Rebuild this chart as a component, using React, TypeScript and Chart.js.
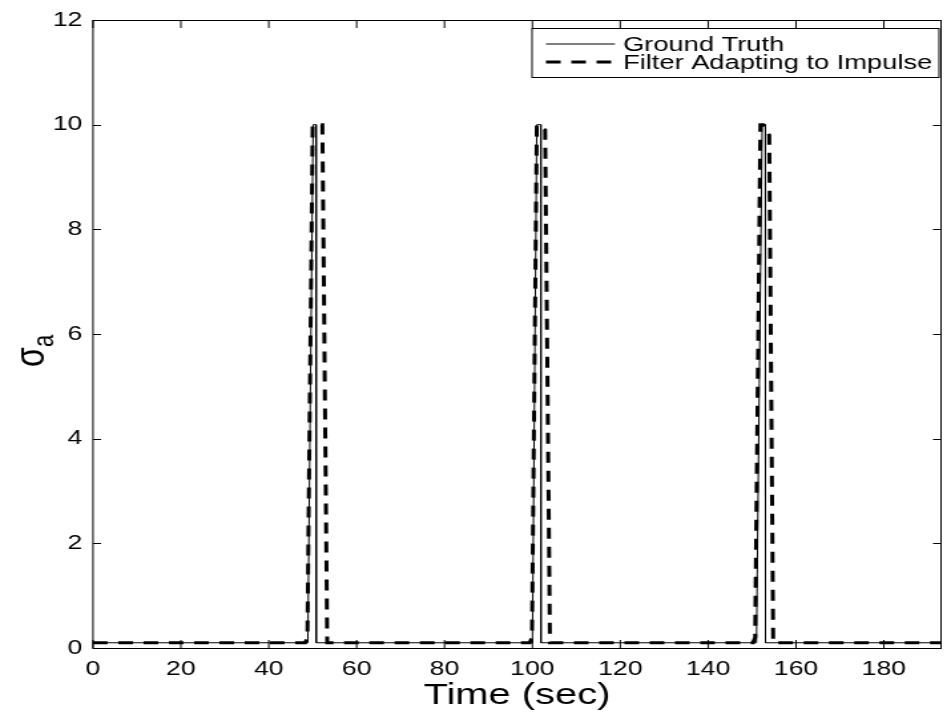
import { useEffect, useRef } from "react";
import { Chart, registerables } from "chart.js";

Chart.register(...registerables);

// ---------- data ----------
const seriesLabels = ["Ground Truth", "Filter Adapting to Impulse"];
const xTitle = "Time (sec)";
const yTitleMain = "σ";
const yTitleSub = "a";

const xTicks = [0, 20, 40, 60, 80, 100, 120, 140, 160, 180];
const yTicks = [0, 2, 4, 6, 8, 10, 12];
const xMin = 0;
const xMax = 193;
const yMin = 0;
const yMax = 12;

const truthTime = [0, 48.9, 50.1, 50.75, 50.8, 100.0, 101.0, 101.9, 101.95, 151.0, 152.3, 153.0, 153.05, 193];
const truthValue = [0.1, 0.1, 10, 10, 0.1, 0.1, 10, 10, 0.1, 0.1, 10, 10, 0.1, 0.1];

const filterTime = [0, 48.3, 48.8, 50.0, 52.2, 53.3, 99.4, 99.9, 101.0, 102.9, 104.0, 150.2, 150.7, 151.9, 152.5, 153.9, 154.8, 193];
const filterValue = [0.1, 0.1, 0.2, 10, 10, 0.1, 0.1, 0.2, 10, 9.9, 0.1, 0.1, 0.2, 10, 10, 9.8, 0.1, 0.1];

// ---------- layout ----------
const W = 947;
const H = 721;
const CW = 712; // drawing width, stretched horizontally to W
const S = W / CW;
const FONT = '"Liberation Sans", Arial, Helvetica, sans-serif';

const framePlugin = {
  id: "frame",
  afterDatasetsDraw(chart: any) {
    const { ctx, chartArea: a, scales } = chart;
    const x = scales.x;
    const y = scales.y;
    ctx.save();
    ctx.strokeStyle = "#000";
    ctx.lineWidth = 1;
    ctx.setLineDash([]);
    ctx.strokeRect(a.left, Math.round(a.top) + 0.5, a.right - a.left, Math.round(a.bottom) - Math.round(a.top));
    const tl = 8;
    ctx.beginPath();
    for (const t of x.ticks) {
      const px = x.getPixelForValue(t.value);
      ctx.moveTo(px, a.bottom);
      ctx.lineTo(px, a.bottom - tl);
      ctx.moveTo(px, a.top);
      ctx.lineTo(px, a.top + tl);
    }
    for (const t of y.ticks) {
      const py = Math.round(y.getPixelForValue(t.value)) + 0.5;
      ctx.moveTo(a.left, py);
      ctx.lineTo(a.left + tl / S, py);
      ctx.moveTo(a.right, py);
      ctx.lineTo(a.right - tl / S, py);
    }
    ctx.stroke();
    ctx.restore();
  },
  afterDraw(chart: any) {
    const { ctx, chartArea: a } = chart;
    ctx.save();
    // y axis title (sigma with subscript a)
    const cx = 32 / S;
    const cy = (a.top + a.bottom) / 2 + 17;
    ctx.translate(cx, cy);
    ctx.rotate(-Math.PI / 2);
    ctx.fillStyle = "#000";
    ctx.textBaseline = "alphabetic";
    ctx.font = `32px ${FONT}`;
    ctx.fillText(yTitleMain, -16, 9);
    ctx.font = `22px ${FONT}`;
    ctx.fillText(yTitleSub, 4, 16);
    ctx.restore();

    // legend
    const ds = chart.data.datasets;
    const lx0 = 532 / S;
    const lx1 = 939 / S;
    const ly0 = 28;
    const ly1 = 77;
    ctx.save();
    ctx.fillStyle = "#fff";
    ctx.fillRect(lx0, ly0, lx1 - lx0, ly1 - ly0);
    ctx.strokeStyle = "#000";
    ctx.lineWidth = 1;
    ctx.strokeRect(lx0, ly0 + 0.5, lx1 - lx0, ly1 - ly0);
    const rows = [44, 62];
    ds.forEach((d: any, i: number) => {
      const ry = rows[i];
      ctx.beginPath();
      ctx.strokeStyle = d.borderColor;
      ctx.lineWidth = d.borderWidth;
      ctx.setLineDash(d.borderDash || []);
      ctx.moveTo(546 / S, ry);
      ctx.lineTo(615 / S, ry);
      ctx.stroke();
      ctx.setLineDash([]);
      ctx.fillStyle = "#000";
      ctx.font = `20.5px ${FONT}`;
      ctx.textBaseline = "middle";
      ctx.fillText(d.label, 623 / S, ry + 1);
    });
    ctx.restore();
  },
};

export default function App() {
  const ref = useRef<HTMLCanvasElement>(null);
  useEffect(() => {
    if (!ref.current) return;
    const chart = new Chart(ref.current, {
      type: "line",
      data: {
        datasets: [
          {
            label: seriesLabels[0],
            data: truthTime.map((t, i) => ({ x: t, y: truthValue[i] })),
            borderColor: "#000",
            borderWidth: 1,
            pointRadius: 0,
            fill: false,
            tension: 0,
          },
          {
            label: seriesLabels[1],
            data: filterTime.map((t, i) => ({ x: t, y: filterValue[i] })),
            borderColor: "#000",
            borderWidth: 3,
            borderDash: [11, 8],
            pointRadius: 0,
            fill: false,
            tension: 0,
          },
        ],
      },
      options: {
        animation: false,
        responsive: false,
        maintainAspectRatio: false,
        devicePixelRatio: 1,
        layout: { padding: { left: 0, right: (W - 941) / S, top: 16, bottom: 0 } },
        plugins: { legend: { display: false }, tooltip: { enabled: false } },
        scales: {
          x: {
            type: "linear",
            min: xMin,
            max: xMax,
            afterBuildTicks: (s: any) => {
              s.ticks = xTicks.map((v) => ({ value: v }));
            },
            afterFit: (s: any) => {
              s.height = H - 648;
            },
            grid: { display: false, drawTicks: false },
            border: { display: false },
            ticks: {
              color: "#000",
              font: { family: FONT, size: 20 },
              padding: 9,
              maxRotation: 0,
              autoSkip: false,
            },
            title: {
              display: true,
              text: xTitle,
              color: "#000",
              font: { family: FONT, size: 30 },
              padding: { top: 0, bottom: 7 },
            },
          },
          y: {
            type: "linear",
            min: yMin,
            max: yMax,
            afterBuildTicks: (s: any) => {
              s.ticks = yTicks.map((v) => ({ value: v }));
            },
            afterFit: (s: any) => {
              s.width = 93 / S;
            },
            grid: { display: false, drawTicks: false },
            border: { display: false },
            ticks: {
              color: "#000",
              font: { family: FONT, size: 20 },
              padding: 8,
              autoSkip: false,
            },
          },
        },
      },
      plugins: [framePlugin],
    });
    return () => chart.destroy();
  }, []);

  return (
    <div style={{ position: "fixed", left: 0, top: 0, width: W, height: H, overflow: "hidden", background: "#fff" }}>
      <canvas
        ref={ref}
        width={CW}
        height={H}
        style={{ width: CW, height: H, display: "block", transform: `scaleX(${S})`, transformOrigin: "0 0" }}
      />
    </div>
  );
}
